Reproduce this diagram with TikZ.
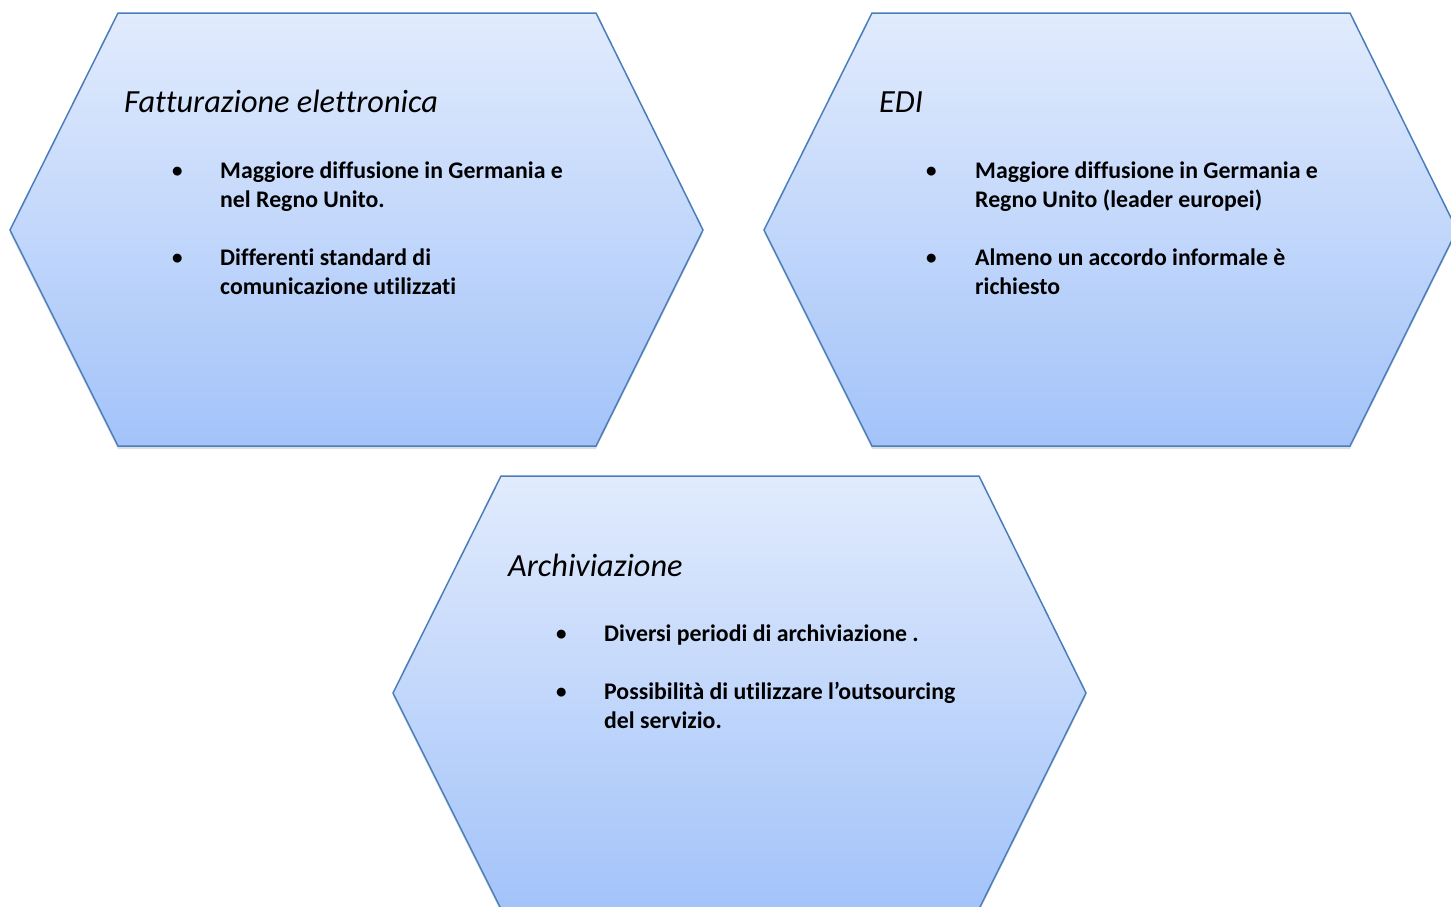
\documentclass[tikz,border=0pt]{standalone}
\usepackage{fontspec}
\setmainfont{Carlito}[Ligatures=NoCommon]
\usetikzlibrary{shadows}

\definecolor{hexline}{RGB}{74,126,187}
\definecolor{hextop}{RGB}{225,235,253}
\definecolor{hexbot}{RGB}{163,195,249}

\begin{document}
\begin{tikzpicture}[x=1pt, y=-1pt,
  hexagon/.style={draw=hexline, line width=1.5pt, top color=hextop, bottom color=hexbot,
    drop shadow={shadow xshift=0pt, shadow yshift=-3pt, opacity=0.25}},
  title/.style={anchor=base west, inner sep=0pt, font=\fontsize{32.3}{38}\selectfont\itshape},
  item/.style={anchor=base west, inner sep=0pt, align=flush left, text width=420pt,
    font=\fontsize{23.8}{29.5}\selectfont\bfseries},
  dot/.style={anchor=base west, inner sep=0pt, font=\fontsize{21}{29.5}\selectfont\bfseries}]

\useasboundingbox (0,0) rectangle (1451,906);

% Hexagons (left corner x, top y)
\foreach \lx/\ty in {10/13, 764/13, 393/476} {
  \draw[hexagon] (\lx,\ty+217) -- ++(108,-217) -- ++(478,0) -- ++(107,217)
    -- ++(-107,216) -- ++(-478,0) -- cycle;
}

% Fatturazione elettronica
\node[title] (fattitle) at (124,112) {Fatturazione elettronica};
\node[dot] (fatdota) at (172,177) {•};
\node[item] (fatitema) at (220,178) {Maggiore diffusione in Germania e\\nel Regno Unito.};
\node[dot] (fatdotb) at (172,264) {•};
\node[item] (fatitemb) at (220,265) {Differenti standard di\\comunicazione utilizzati};

% EDI
\node[title] (edititle) at (879,112) {EDI};
\node[dot] (edidota) at (926,177) {•};
\node[item] (ediitema) at (975,178) {Maggiore diffusione in Germania e\\Regno Unito (leader europei)};
\node[dot] (edidotb) at (926,264) {•};
\node[item] (ediitemb) at (975,265) {Almeno un accordo informale è\\richiesto};

% Archiviazione
\node[title] (arctitle) at (508,576) {Archiviazione};
\node[dot] (arcdota) at (556,640) {•};
\node[item] (arcitema) at (604,641) {Diversi periodi di archiviazione .};
\node[dot] (arcdotb) at (556,698) {•};
\node[item] (arcitemb) at (604,699) {Possibilità di utilizzare l’outsourcing\\del servizio.};

\end{tikzpicture}
\end{document}
